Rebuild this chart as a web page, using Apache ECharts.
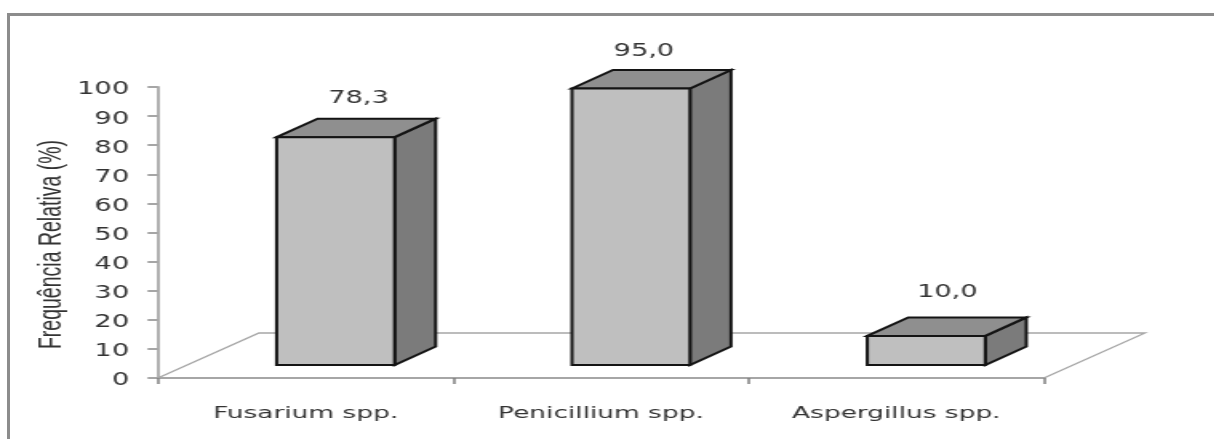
<!DOCTYPE html>
<html>
<head>
<meta charset="utf-8">
<style>
  html, body { margin: 0; padding: 0; background: #fff; overflow: hidden; }
  #frame { position: absolute; left: 7px; top: 13px; width: 1204px; height: 426px;
           border: 3px solid #8c8c8c; border-bottom: none; box-sizing: content-box; }
  /* the chart is laid out narrow, then widened as a whole */
  #chart { position: absolute; left: 0; top: 0; width: 759px; height: 439px;
           transform: scaleX(1.6); transform-origin: 0 0; }
</style>
<script src="https://cdn.jsdelivr.net/npm/echarts@6/dist/echarts.min.js"></script>
</head>
<body>
<div id="frame"></div>
<div id="chart"></div>
<script>
const categories = ['Fusarium spp.', 'Penicillium spp.', 'Aspergillus spp.'];
const frequencia = [78.3, 95.0, 10.0];
const yTicks = [0, 10, 20, 30, 40, 50, 60, 70, 80, 90, 100];
const yTitle = 'Frequência Relativa (%)';

const K = 1.6;                     // horizontal widening of the whole chart
const DEPTH_X = 41 / K, DEPTH_Y = 18.5;
const FLOOR_X = 101 / K, FLOOR_Y = 45;
const BASE_LIFT = 13;
const BAR_W = 118 / K, BAR_SHIFT = 30 / K;
const LABEL_DX = [23 / K, 13 / K, 21 / K];
const LABEL_DY = [-20, -18, -25];

const pts = (a, b, c, d) => [a, b, c, d];

function renderFloor(params, api) {
  const cs = params.coordSys;
  const x0 = cs.x, x1 = cs.x + cs.width, y0 = cs.y + cs.height;
  const style = { fill: 'none', stroke: '#a6a6a6', lineWidth: 1.3 };
  return {
    type: 'polyline', silent: true,
    shape: { points: [[x0, y0], [x0 + FLOOR_X, y0 - FLOOR_Y], [x1 + FLOOR_X, y0 - FLOOR_Y], [x1, y0]] },
    style
  };
}

function renderBar(params, api) {
  const i = api.value(0);
  const v = api.value(1);
  const top = api.coord([i, v]);
  const base = api.coord([i, 0]);
  const l = top[0] + BAR_SHIFT - BAR_W / 2;
  const r = l + BAR_W;
  const yb = base[1] - BASE_LIFT;
  const yt = top[1] - BASE_LIFT;
  const edge = { stroke: '#141414', lineWidth: 2, lineJoin: 'miter' };
  const face = (points, fill) => ({
    type: 'polygon', shape: { points }, style: Object.assign({ fill }, edge)
  });
  const dx = DEPTH_X, dy = DEPTH_Y;
  return {
    type: 'group',
    children: [
      face(pts([r, yt], [r + dx, yt - dy], [r + dx, yb - dy], [r, yb]), '#7b7b7b'),
      face(pts([l, yt], [l + dx, yt - dy], [r + dx, yt - dy], [r, yt]), '#8f8f8f'),
      face(pts([l, yt], [r, yt], [r, yb], [l, yb]), '#bfbfbf'),
      {
        type: 'text',
        style: {
          x: top[0] + BAR_SHIFT + LABEL_DX[i],
          y: yt - dy + LABEL_DY[i],
          text: v.toFixed(1).replace('.', ','),
          fill: '#333',
          font: '17px "DejaVu Sans"',
          align: 'center',
          verticalAlign: 'middle'
        }
      }
    ]
  };
}

const chart = echarts.init(document.getElementById('chart'));
chart.setOption({
  animation: false,
  grid: { left: 158 / K, width: 886 / K, top: 87, height: 291, containLabel: false },
  xAxis: {
    type: 'category',
    data: categories,
    axisLine: { lineStyle: { color: '#a6a6a6', width: 2 } },
    axisTick: { show: true, alignWithLabel: false, length: 6, lineStyle: { color: '#7f7f7f', width: 1.5 } },
    axisLabel: { color: '#333', fontFamily: 'DejaVu Sans', fontSize: 16.5, margin: 27, interval: 0 }
  },
  yAxis: {
    type: 'value',
    min: yTicks[0],
    max: yTicks[yTicks.length - 1],
    interval: yTicks[1] - yTicks[0],
    name: yTitle,
    nameLocation: 'middle',
    nameGap: 56.5,
    nameMoveOverlap: false,
    nameTextStyle: { color: '#333', fontFamily: 'Liberation Sans', fontSize: 19.5, padding: [0, 0, 0, -24] },
    splitLine: { show: false },
    axisLine: { show: true, lineStyle: { color: '#b0b0b0', width: 2 } },
    axisTick: { show: true, length: 6.5, lineStyle: { color: '#a6a6a6', width: 2 } },
    axisLabel: { color: '#333', fontFamily: 'DejaVu Sans', fontSize: 17, margin: 18, verticalAlign: 'top', lineHeight: 6 }
  },
  series: [
    { type: 'custom', name: 'Piso', renderItem: renderFloor, data: [[0, 0]], clip: false, silent: true, z: 1 },
    {
      type: 'custom',
      name: 'Frequência',
      renderItem: renderBar,
      encode: { x: 0, y: 1 },
      data: frequencia.map((v, i) => [i, v]),
      clip: false,
      z: 2
    }
  ]
});
</script>
</body>
</html>
